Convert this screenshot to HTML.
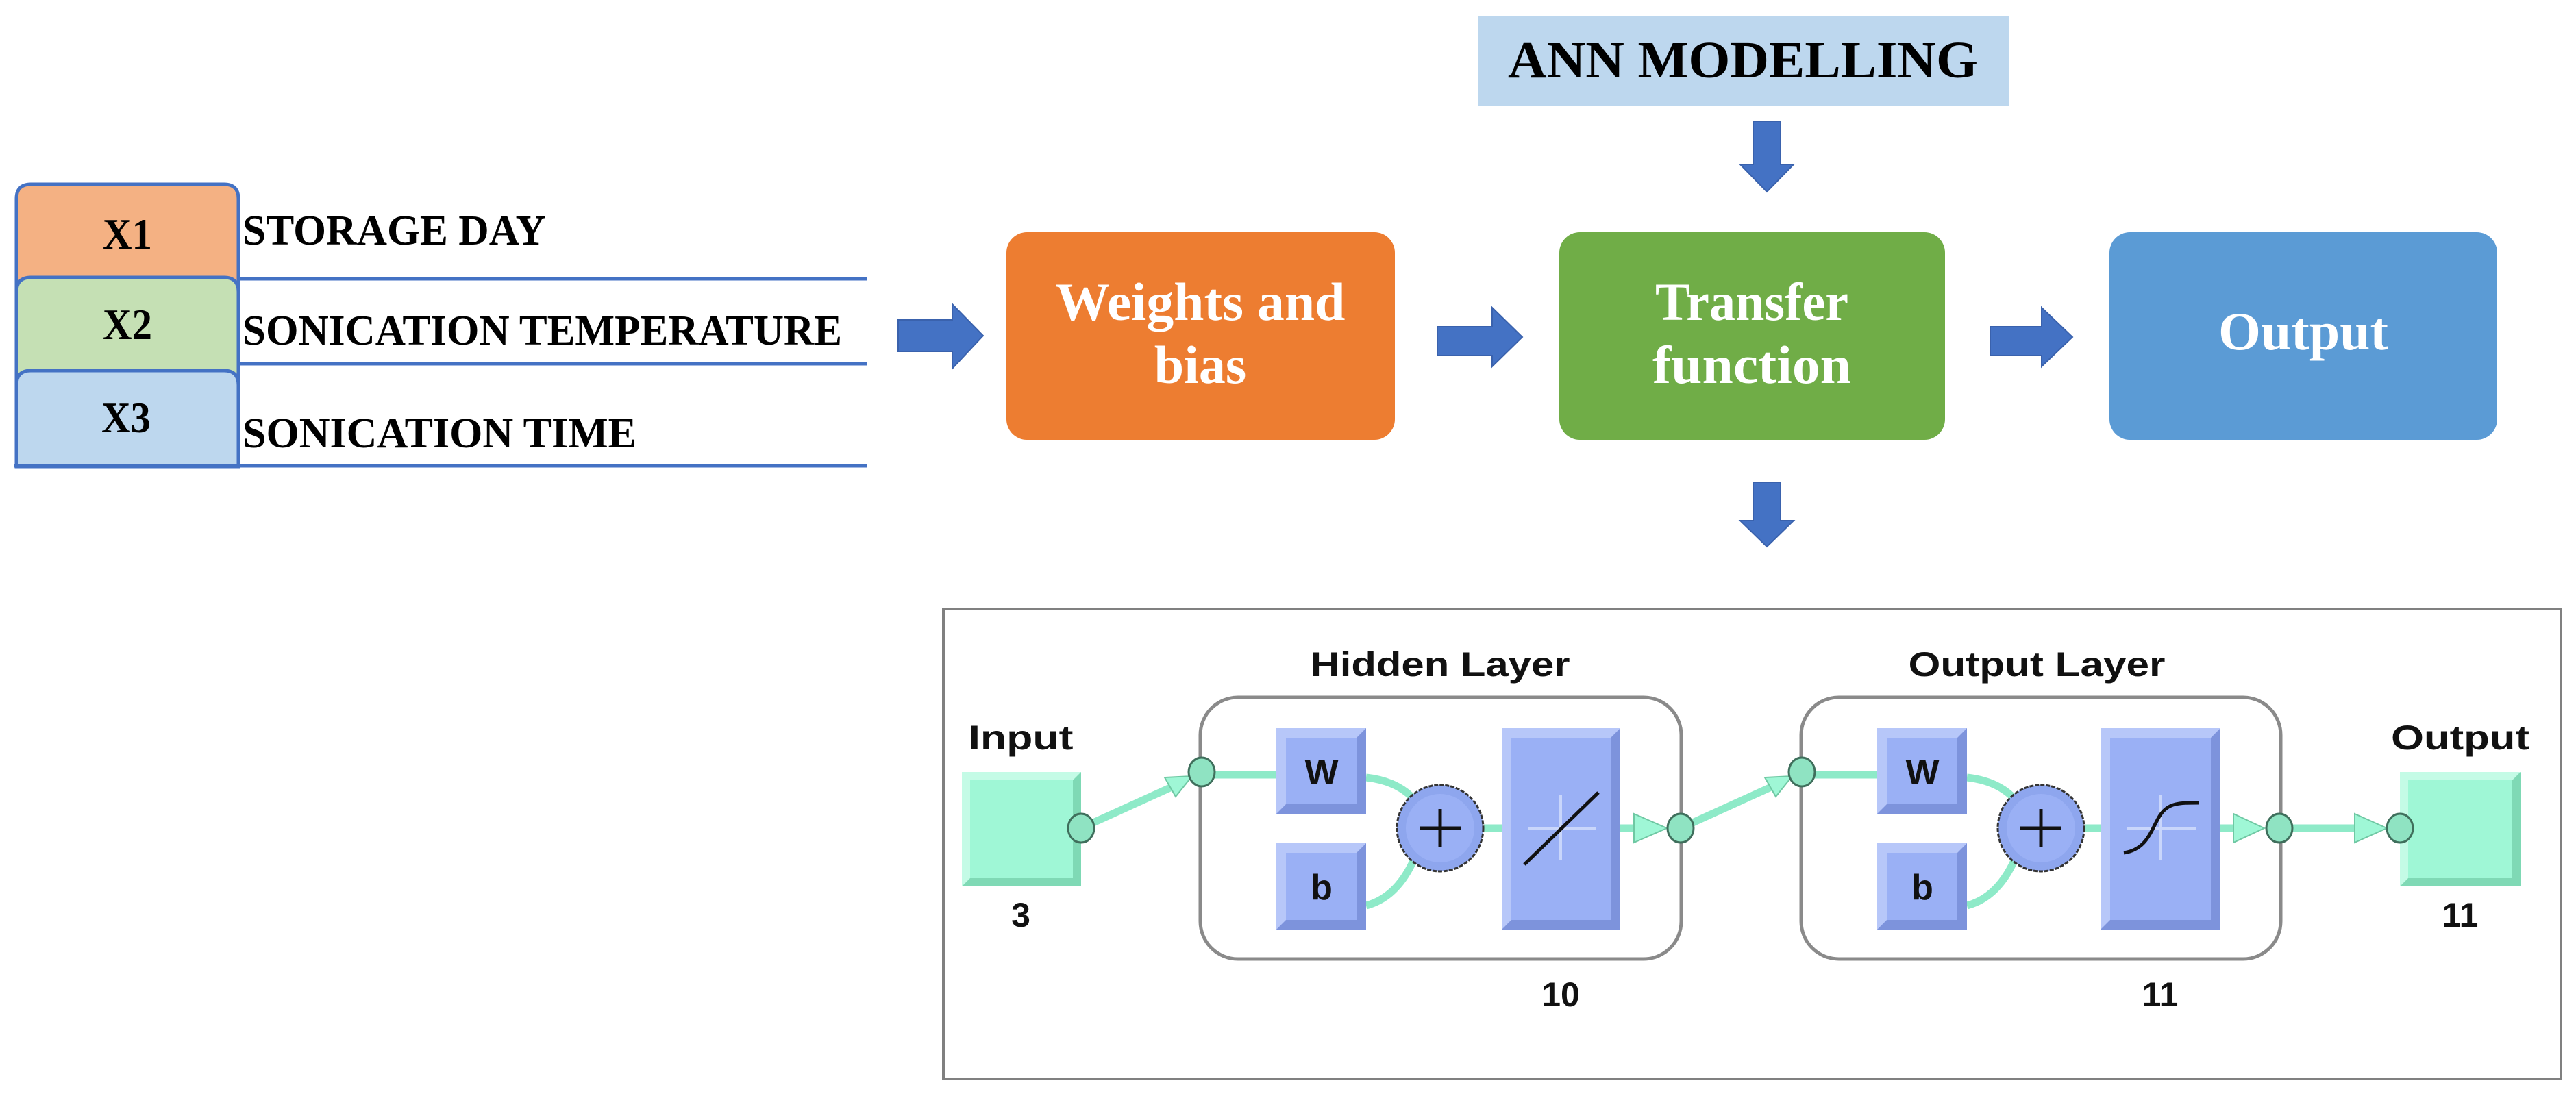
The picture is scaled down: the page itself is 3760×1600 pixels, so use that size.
<!DOCTYPE html>
<html><head><meta charset="utf-8"><style>html,body{margin:0;padding:0;background:#fff}svg{display:block}</style></head>
<body>
<svg width="3760" height="1600" viewBox="0 0 3760 1600" xmlns="http://www.w3.org/2000/svg">
<rect width="3760" height="1600" fill="#fff"/>
<g stroke="#4472C4" stroke-width="5">
<path d="M24,681 V290 Q24,269 45,269 H327 Q348,269 348,290 V681 Z" fill="#F4B183"/>
<path d="M24,681 V426 Q24,405 45,405 H327 Q348,405 348,426 V681 Z" fill="#C5E0B4"/>
<path d="M24,681 V562 Q24,541 45,541 H327 Q348,541 348,562 V681 Z" fill="#BDD7EE"/>
<line x1="348" y1="407" x2="1265" y2="407"/>
<line x1="348" y1="531" x2="1265" y2="531"/>
<line x1="20" y1="680" x2="1265" y2="680"/>
</g>
<g font-family="Liberation Serif, serif" font-weight="bold" fill="#000">
<text x="150" y="363" font-size="64" textLength="72" lengthAdjust="spacingAndGlyphs">X1</text>
<text x="150" y="495" font-size="64" textLength="72" lengthAdjust="spacingAndGlyphs">X2</text>
<text x="148" y="631" font-size="64" textLength="72" lengthAdjust="spacingAndGlyphs">X3</text>
<text x="354" y="357" font-size="62" textLength="443" lengthAdjust="spacingAndGlyphs">STORAGE DAY</text>
<text x="354" y="503" font-size="62" textLength="875" lengthAdjust="spacingAndGlyphs">SONICATION TEMPERATURE</text>
<text x="354" y="653" font-size="62" textLength="575" lengthAdjust="spacingAndGlyphs">SONICATION TIME</text>
</g>
<g fill="#4472C4" stroke="#3a62ad" stroke-width="2">
<polygon points="1311,467 1390,467 1390,444 1435,490 1390,538 1390,513 1311,513"/>
<polygon points="2098,477 2178,477 2178,449 2222,492 2178,535 2178,519 2098,519"/>
<polygon points="2905,477 2980,477 2980,449 3025,492 2980,535 2980,519 2905,519"/>
<polygon points="2559,177 2599,177 2599,240 2618,240 2579,280 2540,240 2559,240"/>
<polygon points="2559,704 2599,704 2599,760 2618,760 2579,798 2540,760 2559,760"/>
</g>
<rect x="2158" y="24" width="775" height="131" fill="#BDD7EE"/>
<text x="2201" y="113" font-family="Liberation Serif, serif" font-weight="bold" font-size="76" textLength="686" lengthAdjust="spacingAndGlyphs">ANN MODELLING</text>
<rect x="1469" y="339" width="567" height="303" rx="30" fill="#ED7D31"/>
<rect x="2276" y="339" width="563" height="303" rx="30" fill="#70AD47"/>
<rect x="3079" y="339" width="566" height="303" rx="30" fill="#5B9BD5"/>
<g font-family="Liberation Serif, serif" font-weight="bold" font-size="78" fill="#fff" text-anchor="middle">
<text x="1752" y="467" textLength="423" lengthAdjust="spacingAndGlyphs">Weights and</text>
<text x="1752" y="559">bias</text>
<text x="2557" y="467" textLength="282" lengthAdjust="spacingAndGlyphs">Transfer</text>
<text x="2557" y="559" textLength="290" lengthAdjust="spacingAndGlyphs">function</text>
<text x="3362" y="510" textLength="248" lengthAdjust="spacingAndGlyphs">Output</text>
</g>
<rect x="1377" y="889" width="2361" height="686" fill="#fff" stroke="#808080" stroke-width="4"/>
<rect x="1752" y="1018" width="702" height="382" rx="55" fill="#fff" stroke="#8a8a8a" stroke-width="5"/>
<rect x="2629" y="1018" width="700" height="382" rx="55" fill="#fff" stroke="#8a8a8a" stroke-width="5"/>
<g stroke="#8eeac8" stroke-width="11" fill="none">
<line x1="1578" y1="1209" x2="1730" y2="1140"/>
<line x1="1754" y1="1131" x2="1863" y2="1131"/>
<path d="M1994,1135 Q2040,1140 2065,1168"/>
<path d="M1994,1322 Q2040,1310 2065,1252"/>
<line x1="2166" y1="1209" x2="2192" y2="1209"/>
<line x1="2365" y1="1209" x2="2420" y2="1209"/>
<line x1="2453" y1="1209" x2="2605" y2="1140"/>
<line x1="2630" y1="1131" x2="2740" y2="1131"/>
<path d="M2871,1135 Q2917,1140 2942,1168"/>
<path d="M2871,1322 Q2917,1310 2942,1252"/>
<line x1="3043" y1="1209" x2="3066" y2="1209"/>
<line x1="3241" y1="1209" x2="3295" y2="1209"/>
<line x1="3327" y1="1209" x2="3470" y2="1209"/>
</g>
<g fill="#9ff7d6" stroke="#6fc8a3" stroke-width="2">
<polygon points="1740,1133 1700,1135 1716,1163"/>
<polygon points="2616,1133 2576,1135 2592,1163"/>
<polygon points="2433,1209 2385,1188 2385,1230"/>
<polygon points="3305,1209 3260,1188 3260,1230"/>
<polygon points="3484,1209 3437,1188 3437,1230"/>
</g>
<g>
<rect x="1404" y="1127" width="174" height="167" fill="#7fd9b5"/><polygon points="1404,1127 1578,1127 1566,1139 1416,1139 1416,1282 1404,1294" fill="#c4fbe6"/><rect x="1416" y="1139" width="150" height="143" fill="#9ff7d6"/>
<rect x="3503" y="1127" width="176" height="167" fill="#7fd9b5"/><polygon points="3503,1127 3679,1127 3667,1139 3515,1139 3515,1282 3503,1294" fill="#c4fbe6"/><rect x="3515" y="1139" width="152" height="143" fill="#9ff7d6"/>
<rect x="1863" y="1063" width="131" height="125" fill="#7d93dc"/><polygon points="1863,1063 1994,1063 1980,1077 1877,1077 1877,1174 1863,1188" fill="#b7c7f9"/><rect x="1877" y="1077" width="103" height="97" fill="#9ab0f5"/>
<rect x="1863" y="1231" width="131" height="126" fill="#7d93dc"/><polygon points="1863,1231 1994,1231 1980,1245 1877,1245 1877,1343 1863,1357" fill="#b7c7f9"/><rect x="1877" y="1245" width="103" height="98" fill="#9ab0f5"/>
<rect x="2192" y="1063" width="173" height="294" fill="#7d93dc"/><polygon points="2192,1063 2365,1063 2351,1077 2206,1077 2206,1343 2192,1357" fill="#b7c7f9"/><rect x="2206" y="1077" width="145" height="266" fill="#9ab0f5"/>
<rect x="2740" y="1063" width="131" height="125" fill="#7d93dc"/><polygon points="2740,1063 2871,1063 2857,1077 2754,1077 2754,1174 2740,1188" fill="#b7c7f9"/><rect x="2754" y="1077" width="103" height="97" fill="#9ab0f5"/>
<rect x="2740" y="1231" width="131" height="126" fill="#7d93dc"/><polygon points="2740,1231 2871,1231 2857,1245 2754,1245 2754,1343 2740,1357" fill="#b7c7f9"/><rect x="2754" y="1245" width="103" height="98" fill="#9ab0f5"/>
<rect x="3066" y="1063" width="175" height="294" fill="#7d93dc"/><polygon points="3066,1063 3241,1063 3227,1077 3080,1077 3080,1343 3066,1357" fill="#b7c7f9"/><rect x="3080" y="1077" width="147" height="266" fill="#9ab0f5"/>
</g>
<g stroke="#c9d6fb" stroke-width="4">
<line x1="2230" y1="1209" x2="2330" y2="1209"/><line x1="2278" y1="1160" x2="2278" y2="1255"/>
<line x1="3105" y1="1209" x2="3205" y2="1209"/><line x1="3153" y1="1160" x2="3153" y2="1255"/>
</g>
<line x1="2225" y1="1262" x2="2333" y2="1157" stroke="#111" stroke-width="5"/>
<path d="M3100,1245 C3135,1240 3140,1210 3153,1190 C3165,1172 3180,1172 3210,1172" stroke="#111" stroke-width="5" fill="none"/>
<g>
<circle cx="2102" cy="1209" r="63" fill="#8ea6ee" stroke="#333" stroke-width="3" stroke-dasharray="6 2"/>
<circle cx="2102" cy="1209" r="50" fill="#9ab0f5"/>
<circle cx="2979" cy="1209" r="63" fill="#8ea6ee" stroke="#333" stroke-width="3" stroke-dasharray="6 2"/>
<circle cx="2979" cy="1209" r="50" fill="#9ab0f5"/>
<g stroke="#111" stroke-width="5"><line x1="2072" y1="1209" x2="2132" y2="1209"/><line x1="2102" y1="1181" x2="2102" y2="1237"/>
<line x1="2949" y1="1209" x2="3009" y2="1209"/><line x1="2979" y1="1181" x2="2979" y2="1237"/></g>
</g>
<g fill="#8fe3c2" stroke="#3f6f5c" stroke-width="3">
<ellipse cx="1578" cy="1209" rx="19" ry="21"/>
<ellipse cx="1754" cy="1127" rx="19" ry="21"/>
<ellipse cx="2453" cy="1209" rx="19" ry="21"/>
<ellipse cx="2630" cy="1127" rx="19" ry="21"/>
<ellipse cx="3327" cy="1209" rx="19" ry="21"/>
<ellipse cx="3503" cy="1209" rx="19" ry="21"/>
</g>
<g font-family="Liberation Sans, sans-serif" font-weight="bold" fill="#111" text-anchor="middle">
<text x="1490" y="1094" font-size="50" textLength="153" lengthAdjust="spacingAndGlyphs">Input</text>
<text x="3591" y="1094" font-size="50" textLength="202" lengthAdjust="spacingAndGlyphs">Output</text>
<text x="2102" y="987" font-size="50" textLength="379" lengthAdjust="spacingAndGlyphs">Hidden Layer</text>
<text x="2973" y="987" font-size="50" textLength="375" lengthAdjust="spacingAndGlyphs">Output Layer</text>
<text x="1490" y="1353" font-size="50">3</text>
<text x="3591" y="1353" font-size="50">11</text>
<text x="2278" y="1469" font-size="50">10</text>
<text x="3153" y="1469" font-size="50">11</text>
<text x="1929" y="1145" font-size="52">W</text>
<text x="1929" y="1313" font-size="52">b</text>
<text x="2806" y="1145" font-size="52">W</text>
<text x="2806" y="1313" font-size="52">b</text>
</g>
</svg>
</body></html>
